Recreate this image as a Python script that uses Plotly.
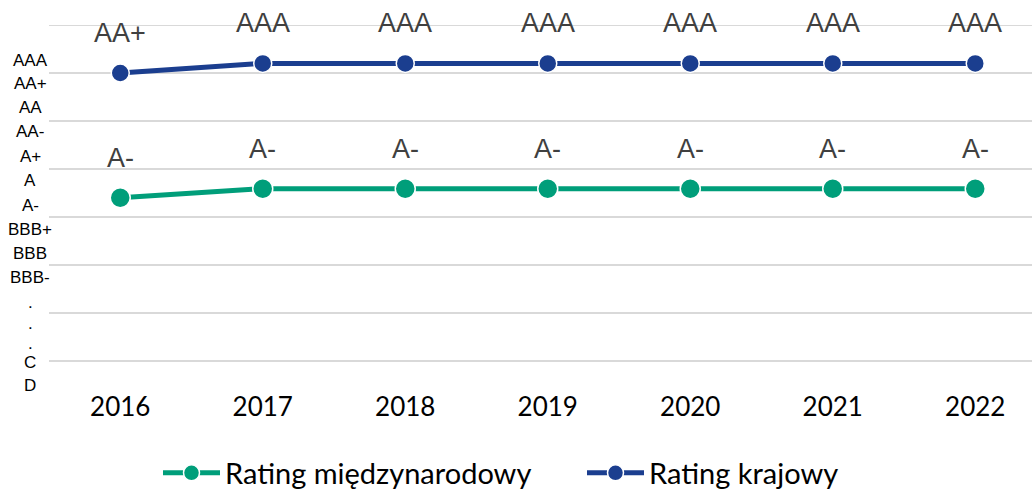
import plotly.graph_objects as go

years = ["2016", "2017", "2018", "2019", "2020", "2021", "2022"]
intl_values = [3.40, 3.59, 3.59, 3.59, 3.59, 3.59, 3.59]
intl_labels = ["A-", "A-", "A-", "A-", "A-", "A-", "A-"]
dom_values = [6.00, 6.20, 6.20, 6.20, 6.20, 6.20, 6.20]
dom_labels = ["AA+", "AAA", "AAA", "AAA", "AAA", "AAA", "AAA"]

scale_labels = ["AAA", "AA+", "AA", "AA-", "A+", "A", "A-", "BBB+", "BBB", "BBB-",
                ".", ".", ".", "C", "D"]
scale_levels = [6.27, 5.79, 5.29, 4.79, 4.27, 3.77, 3.25, 2.75, 2.25, 1.75,
                1.21, 0.79, 0.375, -0.04, -0.5]

GREEN = "#009E7A"
BLUE = "#1B3E8F"

fig = go.Figure()
fig.add_trace(go.Scatter(
    x=years, y=intl_values, name="Rating międzynarodowy", mode="lines+markers",
    line=dict(color=GREEN, width=5),
    marker=dict(size=20, color=GREEN, line=dict(color="white", width=1.5)),
    cliponaxis=False,
))
fig.add_trace(go.Scatter(
    x=years, y=dom_values, name="Rating krajowy", mode="lines+markers",
    line=dict(color=BLUE, width=5),
    marker=dict(size=18, color=BLUE, line=dict(color="white", width=1.5)),
    cliponaxis=False,
))

L, R, T, B = 49, 0, 25, 128
W, H = 1032, 489
plot_w = W - L - R
plot_h = H - T - B
y_top = 7.0

annotations = []
for ys, ls in [(intl_values, intl_labels), (dom_values, dom_labels)]:
    for i, (y, t) in enumerate(zip(ys, ls)):
        annotations.append(dict(
            x=i, y=y, xref="x", yref="y", text=t, showarrow=False,
            yshift=40, xanchor="center", yanchor="middle",
            font=dict(family="Liberation Sans, Arial, sans-serif", size=27, color="#404040"),
        ))

for lab, lev in zip(scale_labels, scale_levels):
    annotations.append(dict(
        x=(30 - L) / plot_w, y=lev / y_top, xref="paper", yref="paper", text=lab,
        showarrow=False, xanchor="center", yanchor="middle",
        font=dict(family="Liberation Sans, Arial, sans-serif", size=17, color="#000000"),
    ))

fig.update_layout(
    width=W, height=H,
    margin=dict(l=L, r=R, t=T, b=B, pad=0, autoexpand=False),
    paper_bgcolor="white", plot_bgcolor="white",
    showlegend=True,
    legend=dict(
        orientation="h", x=(158 - L) / plot_w, y=(361 - 473) / plot_h,
        xanchor="left", yanchor="middle",
        font=dict(family="Lato, sans-serif", size=29, color="#000000"),
        itemwidth=57, entrywidth=352, entrywidthmode="pixels",
        bgcolor="rgba(0,0,0,0)",
    ),
    annotations=annotations,
    xaxis=dict(
        type="category", range=[-0.5, -0.5 + plot_w / 142.5],
        showgrid=False, zeroline=False, showline=False,
        ticks="outside", ticklen=23, tickcolor="rgba(0,0,0,0)",
        tickfont=dict(family="Lato, sans-serif", size=26, color="#000000"),
    ),
    yaxis=dict(
        range=[0, y_top], dtick=1, tick0=0,
        showgrid=True, gridcolor="#D9D9D9", gridwidth=2,
        zeroline=True, zerolinecolor="#D9D9D9", zerolinewidth=2,
        showline=False, showticklabels=False, ticks="",
    ),
)
fig.add_hline(y=y_top, line=dict(color="#D9D9D9", width=2), layer="below")

fig.write_html(
    "out.html",
    config={"displayModeBar": False},
    post_script="document.body.style.margin='0';document.body.style.overflow='hidden';",
)
